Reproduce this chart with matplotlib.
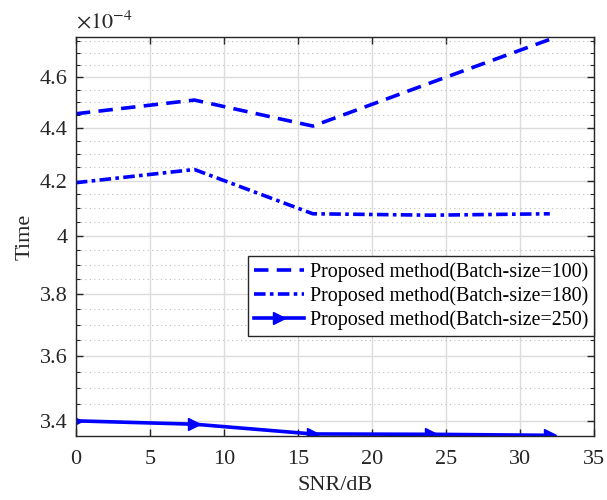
import numpy as np
import matplotlib.pyplot as plt
from matplotlib.ticker import FixedLocator, FuncFormatter, NullFormatter

plt.rcParams['font.family'] = ['Liberation Serif', 'DejaVu Serif']
plt.rcParams['mathtext.fontset'] = 'stix'

# DATA (Time in units of 1e-4)
snr = [0, 8, 16, 24, 32]
time_bs100 = [4.454, 4.508, 4.406, 4.578, 4.755]
time_bs180 = [4.192, 4.241, 4.079, 4.074, 4.079]
time_bs250 = [3.400, 3.390, 3.361, 3.360, 3.357]
labels = ["Proposed method(Batch-size=100)",
          "Proposed method(Batch-size=180)",
          "Proposed method(Batch-size=250)"]

y_major = [3.4, 3.6, 3.8, 4.0, 4.2, 4.4, 4.6]
y_minor = list(np.round(np.arange(3.35, 4.80, 0.05), 2))
scale = 1e-4

dark = '#262626'

fig = plt.figure(figsize=(6.07, 5.0), dpi=100)
ax = fig.add_axes([0.125, 0.128, 0.854, 0.798])

blue = '#0000ff'
ax.plot(snr, np.array(time_bs100) * scale, color=blue, lw=2.6,
        dashes=(4.0, 2.3), label=labels[0])
ax.plot(snr, np.array(time_bs180) * scale, color=blue, lw=2.6,
        dashes=(3.2, 1.2, 1.0, 1.2), label=labels[1])
ax.plot(snr, np.array(time_bs250) * scale, color=blue, lw=2.6,
        marker='>', markersize=8.5, label=labels[2])

ax.set_yscale('log')
ax.set_xlim(0, 35)
ax.set_ylim(3.355 * scale, 4.765 * scale)

ax.set_xticks(np.arange(0, 36, 5))
ax.yaxis.set_major_locator(FixedLocator([v * scale for v in y_major]))
ax.yaxis.set_minor_locator(FixedLocator([v * scale for v in y_minor]))
ax.yaxis.set_major_formatter(FuncFormatter(lambda v, p: f"{v / scale:g}"))
ax.yaxis.set_minor_formatter(NullFormatter())

ax.grid(True, which='major', color='#dcdcdc', lw=1.0, ls='-')
ax.grid(True, which='minor', axis='y', color='#bdbdbd', lw=0.8, ls=(0, (1, 3)))
ax.set_axisbelow(True)

ax.tick_params(which='both', direction='in', top=True, right=True,
               colors=dark, labelcolor=dark, labelsize=16)
ax.tick_params(which='major', length=5, width=1.0)
ax.tick_params(which='minor', length=3, width=0.8)
ax.tick_params(axis='x', pad=10)
ax.tick_params(axis='y', pad=6)
for s in ax.spines.values():
    s.set_color(dark)
    s.set_linewidth(1.0)

ax.set_xlabel("SNR/dB", fontsize=16, color=dark, labelpad=5)
ax.set_ylabel("Time", fontsize=16, color=dark, labelpad=4)
ax.text(0.0, 1.008, r"$\times10^{-4}$", transform=ax.transAxes,
        fontsize=16, color=dark, ha='left', va='bottom')

leg = ax.legend(loc='upper right', bbox_to_anchor=(1.0, 0.451),
                fontsize=14.4, frameon=True, fancybox=False,
                handlelength=2.5, handletextpad=0.3, borderpad=0.3,
                labelspacing=0.22, borderaxespad=0.0)
leg.get_frame().set_edgecolor(dark)
leg.get_frame().set_linewidth(1.0)
leg.get_frame().set_alpha(1.0)

fig.savefig("out.png", dpi=100)
